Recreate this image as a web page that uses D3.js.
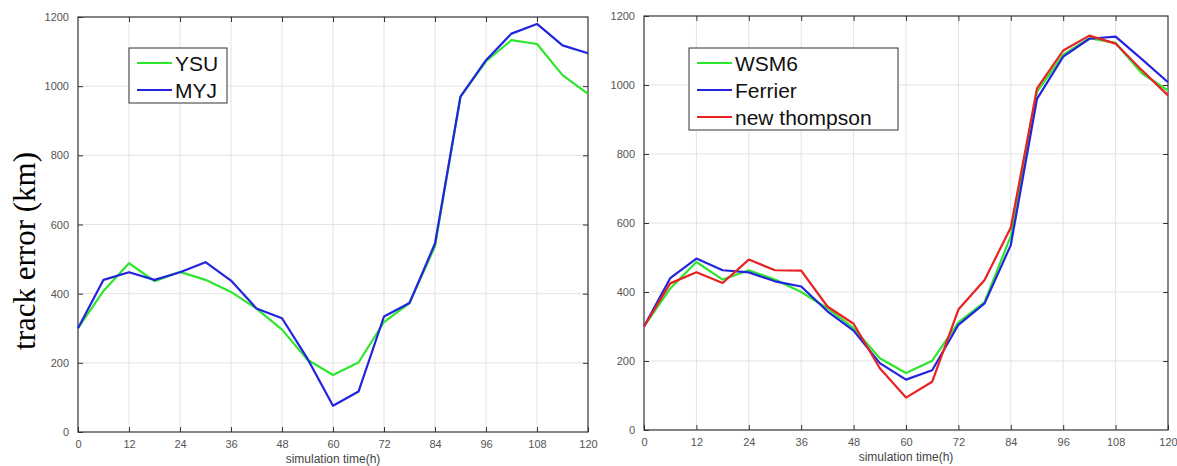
<!DOCTYPE html>
<html>
<head>
<meta charset="utf-8">
<script src="https://cdn.jsdelivr.net/npm/d3@7"></script>
<style>
  body { margin: 0; background: #fff; }
  svg { display: block; }
</style>
</head>
<body>
<svg width="1177" height="466"></svg>
<script>
// simulation hours (x categories)
const hours = [0, 6, 12, 18, 24, 30, 36, 42, 48, 54, 60, 66, 72, 78, 84, 90, 96, 102, 108, 114, 120];
const xTicks = [0, 12, 24, 36, 48, 60, 72, 84, 96, 108, 120];
const yTicks = [0, 200, 400, 600, 800, 1000, 1200];

// left panel: boundary layer schemes
const ysu = [300, 408, 488, 436, 463, 440, 405, 357, 296, 209, 165, 201, 318, 373, 537, 970, 1072, 1133, 1122, 1032, 978];
const myj = [300, 440, 462, 440, 462, 491, 438, 357, 329, 212, 76, 117, 334, 373, 545, 970, 1075, 1152, 1180, 1118, 1095];

// right panel: microphysics schemes
const wsm6 = [300, 410, 487, 436, 463, 436, 400, 353, 295, 208, 165, 201, 312, 371, 562, 980, 1088, 1136, 1122, 1034, 984];
const ferrier = [300, 440, 497, 463, 457, 431, 416, 344, 288, 194, 146, 173, 305, 367, 536, 960, 1082, 1134, 1140, 1075, 1008];
const thompson = [300, 425, 457, 426, 494, 463, 462, 358, 308, 179, 94, 140, 349, 435, 587, 990, 1100, 1143, 1120, 1043, 970];

const GREEN = "#2ee62e", BLUE = "#2323e0", RED = "#e82222";

const svg = d3.select("svg");

function drawPanel(box, series, legendBox) {
    const x = d3.scaleLinear().domain([0, 120]).range([box.left, box.right]);
    const y = d3.scaleLinear().domain([0, 1200]).range([box.bottom, box.top]);
    const g = svg.append("g");

    // grid
    g.append("g").selectAll("line").data(xTicks.slice(1, -1)).join("line")
        .attr("x1", d => x(d)).attr("x2", d => x(d))
        .attr("y1", box.top).attr("y2", box.bottom)
        .attr("stroke", "#e3e3e3").attr("stroke-width", 1);
    g.append("g").selectAll("line").data(yTicks.slice(1, -1)).join("line")
        .attr("y1", d => y(d)).attr("y2", d => y(d))
        .attr("x1", box.left).attr("x2", box.right)
        .attr("stroke", "#e3e3e3").attr("stroke-width", 1);

    // axes (ticks inward, MATLAB style)
    const styleAxis = sel => {
        sel.select(".domain").remove();
        sel.selectAll("line").attr("stroke", "#333");
        sel.selectAll("text").attr("fill", "#555")
            .style("font-family", "'Liberation Sans', Arial, sans-serif")
            .style("font-size", "11px");
    };
    g.append("g").attr("transform", `translate(0,${box.bottom})`)
        .call(d3.axisBottom(x).tickValues(xTicks).tickSizeInner(-5).tickSizeOuter(0).tickPadding(8))
        .call(styleAxis);
    g.append("g").attr("transform", `translate(0,${box.top})`)
        .call(d3.axisTop(x).tickValues(xTicks.slice(1, -1)).tickSizeInner(-5).tickSizeOuter(0).tickFormat(""))
        .call(styleAxis);
    g.append("g").attr("transform", `translate(${box.left},0)`)
        .call(d3.axisLeft(y).tickValues(yTicks).tickFormat(d3.format("d"))
            .tickSizeInner(-5).tickSizeOuter(0).tickPadding(9))
        .call(styleAxis);
    g.append("g").attr("transform", `translate(${box.right},0)`)
        .call(d3.axisRight(y).tickValues(yTicks.slice(1, -1)).tickSizeInner(-5).tickSizeOuter(0).tickFormat(""))
        .call(styleAxis);

    g.append("rect")
        .attr("x", box.left).attr("y", box.top)
        .attr("width", box.right - box.left).attr("height", box.bottom - box.top)
        .attr("fill", "none").attr("stroke", "#333").attr("stroke-width", 1.2);

    g.append("text")
        .attr("x", (box.left + box.right) / 2).attr("y", box.bottom + 31)
        .attr("text-anchor", "middle")
        .attr("fill", "#444")
        .style("font-family", "'Liberation Sans', Arial, sans-serif")
        .style("font-size", "12px")
        .text("simulation time(h)");

    // lines
    const line = d3.line()
        .x((d, i) => x(hours[i]))
        .y(d => y(d));
    series.forEach(s => {
        g.append("path")
            .attr("d", line(s.values))
            .attr("fill", "none")
            .attr("stroke", s.color)
            .attr("stroke-width", 2.2)
            .attr("stroke-linejoin", "round");
    });

    // legend
    const lg = g.append("g");
    lg.append("rect")
        .attr("x", legendBox.x).attr("y", legendBox.y)
        .attr("width", legendBox.w).attr("height", legendBox.h)
        .attr("fill", "#fff").attr("stroke", "#333").attr("stroke-width", 1);
    series.forEach((s, i) => {
        const cy = legendBox.y + 15 + i * 27;
        lg.append("line")
            .attr("x1", legendBox.x + 8).attr("x2", legendBox.x + 43)
            .attr("y1", cy).attr("y2", cy)
            .attr("stroke", s.color).attr("stroke-width", 2.2);
        lg.append("text")
            .attr("x", legendBox.x + 46).attr("y", cy + 7.5)
            .attr("fill", "#111")
            .style("font-family", "'Liberation Sans', Arial, sans-serif")
            .style("font-size", "21px")
            .text(s.name);
    });
}

drawPanel({left: 78, right: 588, top: 17, bottom: 432},
    [{name: "YSU", values: ysu, color: GREEN}, {name: "MYJ", values: myj, color: BLUE}],
    {x: 129, y: 48, w: 98, h: 55});

drawPanel({left: 644, right: 1168, top: 16, bottom: 430},
    [{name: "WSM6", values: wsm6, color: GREEN}, {name: "Ferrier", values: ferrier, color: BLUE},
     {name: "new thompson", values: thompson, color: RED}],
    {x: 689, y: 48, w: 209, h: 82});

svg.append("text")
    .attr("transform", "translate(35,251) rotate(-90)")
    .attr("text-anchor", "middle")
    .attr("fill", "#000")
    .style("font-family", "'Liberation Serif', 'Times New Roman', serif")
    .style("font-size", "31px")
    .text("track error (km)");
</script>
</body>
</html>
